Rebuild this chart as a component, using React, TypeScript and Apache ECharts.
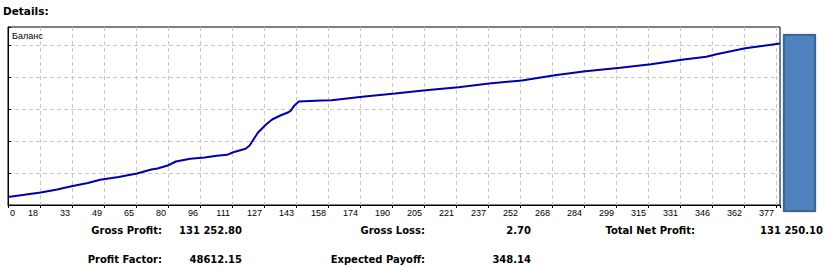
import React, { useEffect, useRef } from "react";
import * as echarts from "echarts";

// ---- data ----
const tradeIdx = [0, 8, 16, 24, 31, 39, 45, 54, 63, 70, 73, 78, 82, 89, 96, 102, 107, 110, 116, 118, 122, 126, 129, 133, 137, 138, 140, 142, 153, 158, 173, 189, 204, 220, 235, 251, 267, 282, 299, 314, 330, 341, 346, 360, 377];
const balance = [6840, 8720, 10690, 13250, 16070, 18810, 21550, 23940, 26930, 30350, 31210, 33770, 37190, 39500, 40610, 42070, 42920, 45140, 48050, 50870, 61730, 68830, 73100, 76520, 79340, 80540, 85330, 88490, 89350, 89600, 92510, 95330, 98150, 100720, 103880, 106450, 110980, 114400, 117310, 120380, 124400, 126710, 128930, 134060, 138090];
const xTickLabels = ["0", "18", "33", "49", "65", "80", "96", "111", "127", "143", "158", "174", "190", "205", "221", "237", "252", "268", "284", "299", "315", "331", "346", "362", "377"];
const barCategories = ["Gross Profit"];
const barValues = [131252.8];
const statLabels = ["Gross Profit:", "Profit Factor:", "Gross Loss:", "Expected Payoff:", "Total Net Profit:"];
const statValues = ["131 252.80", "48612.15", "2.70", "348.14", "131 250.10"];
const seriesName = "Баланс";
const titleText = "Details:";

// ---- layout constants ----
const X_MAX = 377;
const X_INTERVAL = (32 * X_MAX) / 772;
const Y_INTERVAL = 27360;
const Y_MAX = 152190;

const boldFont = "bold 10px 'DejaVu Sans', sans-serif";
const smallFamily = "'Liberation Sans Narrow', 'Liberation Sans', sans-serif";

export default function App() {
  const ref = useRef<HTMLDivElement>(null);

  useEffect(() => {
    document.body.style.margin = "0";
    const chart = echarts.init(ref.current!, null, { renderer: "svg" });

    const lineData = tradeIdx.map((x, i) => [x, balance[i]]);

    // stat text positions: [labelRightX, valueRightX, y]
    const statPos = [
      [162, 242, 230],
      [162, 242, 259],
      [425, 531, 230],
      [425, 531, 259],
      [695, 823, 230],
    ];

    const graphics: any[] = [
      {
        type: "text",
        x: 3,
        y: 10.5,
        style: { text: titleText, font: "bold 10.5px 'DejaVu Sans', sans-serif", fill: "#000", align: "left", verticalAlign: "middle" },
      },
      {
        type: "text",
        x: 12,
        y: 35.5,
        z: 10,
        style: { text: seriesName, font: `9px ${smallFamily}`, fill: "#000", align: "left", verticalAlign: "middle" },
      },
    ];
    statLabels.forEach((lab, i) => {
      const [lx, vx, y] = statPos[i];
      graphics.push({
        type: "text",
        x: lx,
        y,
        style: { text: lab, font: boldFont, fill: "#000", align: "right", verticalAlign: "middle" },
      });
      graphics.push({
        type: "text",
        x: vx,
        y,
        style: { text: statValues[i], font: boldFont, fill: "#000", align: "right", verticalAlign: "middle" },
      });
    });

    chart.setOption({
      animation: false,
      backgroundColor: "#fff",
      grid: [
        { left: 8, top: 27, width: 772, height: 178, show: true, borderColor: "#000", borderWidth: 1, backgroundColor: "#fff" },
        { left: 783, top: 34, width: 33, height: 178 },
      ],
      xAxis: [
        {
          type: "value",
          gridIndex: 0,
          min: 0,
          max: X_MAX,
          interval: X_INTERVAL,
          axisLine: { show: true, lineStyle: { color: "#000", width: 1 } },
          axisTick: { show: true, length: 3, inside: false, lineStyle: { color: "#000" } },
          axisLabel: {
            show: true,
            margin: 3,
            align: "right",
            alignMinLabel: "left",
            padding: [0, 2, 0, 2],
            fontFamily: smallFamily,
            fontSize: 9,
            color: "#000",
            formatter: (v: number) => {
              const k = Math.round(v / X_INTERVAL);
              return Math.abs(v - k * X_INTERVAL) < 0.01 ? xTickLabels[k] ?? "" : "";
            },
          },
          splitLine: { show: true, showMinLine: false, showMaxLine: false, lineStyle: { color: "#c8c8c8", type: [4, 3], width: 1 } },
        },
        { type: "category", gridIndex: 1, data: barCategories, show: false },
      ],
      yAxis: [
        {
          type: "value",
          gridIndex: 0,
          position: "right",
          min: 0,
          max: Y_MAX,
          interval: Y_INTERVAL,
          axisLine: { show: true, lineStyle: { color: "#000", width: 1 } },
          axisTick: { show: true, length: 3, inside: false, lineStyle: { color: "#000" } },
          axisLabel: { show: false },
          splitLine: { show: true, showMinLine: false, showMaxLine: false, lineStyle: { color: "#c8c8c8", type: [4, 3], width: 1 } },
        },
        { type: "value", gridIndex: 1, min: 0, max: barValues[0], show: false },
      ],
      series: [
        {
          type: "line",
          name: seriesName,
          xAxisIndex: 0,
          yAxisIndex: 0,
          data: lineData,
          showSymbol: false,
          symbol: "none",
          lineStyle: { color: "#0000aa", width: 2 },
          z: 5,
        },
        {
          type: "bar",
          xAxisIndex: 1,
          yAxisIndex: 1,
          data: barValues,
          barWidth: "100%",
          itemStyle: {
            color: "#4f81bd",
            borderColor: "#3d6593",
            borderWidth: 2,
            shadowColor: "rgba(79,129,189,0.5)",
            shadowBlur: 2,
          },
        },
      ],
      graphic: graphics,
    });

    return () => chart.dispose();
  }, []);

  return <div ref={ref} style={{ position: "absolute", left: 0, top: 0, width: 828, height: 267 }} />;
}
